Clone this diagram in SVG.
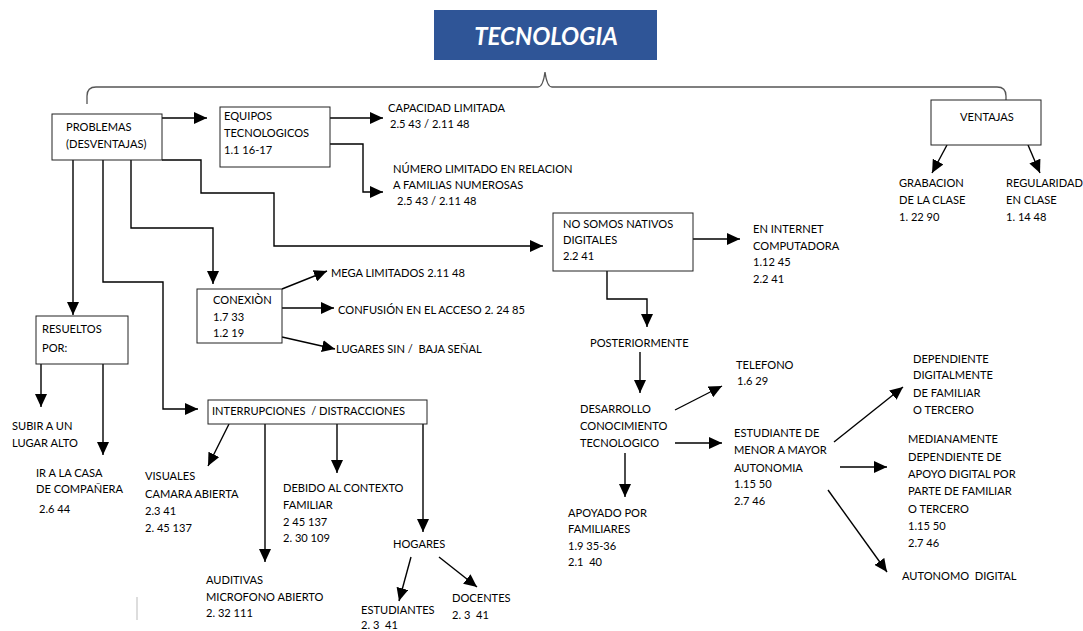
<svg xmlns="http://www.w3.org/2000/svg" width="1083" height="631" viewBox="0 0 1083 631">
<defs>
<marker id="ah" markerUnits="userSpaceOnUse" markerWidth="14" markerHeight="12" refX="13" refY="6" orient="auto">
<path d="M0,0 L13,6 L0,12 z" fill="#000"/>
</marker>
<style>
text{font-family:Lato,"Liberation Sans",sans-serif;font-size:11.1px;fill:#000}
.box{fill:#fff;stroke:#222;stroke-width:1}
.c{fill:none;stroke:#000;stroke-width:1.4}
.a{fill:none;stroke:#000;stroke-width:1.4;marker-end:url(#ah)}
.title{font-size:24px;font-weight:bold;font-style:italic;fill:#fff}
</style>
</defs>
<rect width="1083" height="631" fill="#fff"/>

<g id="title">
<rect x="434" y="10" width="223" height="50" fill="#2F5597"/>
<text class="title" x="546" y="45" text-anchor="middle">TECNOLOGIA</text>
</g>

<g id="connectors">
<path d="M87,104 L87,96 Q87,87 96,87 L538,87 Q543,87 545,72 Q547,87 552,87 L997,87 Q1006,87 1006,96 L1006,100" fill="none" stroke="#555" stroke-width="1.3"/>
<line class="a" x1="162" y1="118" x2="207" y2="118"/>
<line class="a" x1="330" y1="118" x2="383" y2="118"/>
<polyline class="a" points="330,144 363,144 363,192 383,192"/>
<polyline class="a" points="162,160 201,160 201,193 274,193 274,246 543,246"/>
<polyline class="a" points="131,160 131,228 213,228 213,284"/>
<line class="a" x1="73" y1="160" x2="73" y2="315"/>
<polyline class="a" points="103,160 103,282 163,282 163,409 198,409"/>
<line class="a" x1="947" y1="145" x2="932" y2="173"/>
<line class="a" x1="1028" y1="145" x2="1040" y2="173"/>
<line class="a" x1="693" y1="239" x2="740" y2="239"/>
<polyline class="a" points="607,271 607,299 647,299 647,327"/>
<line class="a" x1="282" y1="289" x2="327" y2="271"/>
<line class="a" x1="282" y1="308" x2="334" y2="308"/>
<line class="a" x1="282" y1="337" x2="335" y2="349"/>
<line class="a" x1="41" y1="364" x2="41" y2="407"/>
<line class="a" x1="103" y1="364" x2="103" y2="455"/>
<line class="a" x1="229" y1="424" x2="208" y2="466"/>
<line class="a" x1="265" y1="424" x2="265" y2="562"/>
<line class="a" x1="337" y1="424" x2="337" y2="473"/>
<line class="a" x1="423" y1="424" x2="423" y2="532"/>
<line class="a" x1="411" y1="557" x2="399" y2="601"/>
<line class="a" x1="439" y1="557" x2="477" y2="587"/>
<line class="a" x1="640" y1="352" x2="640" y2="393"/>
<line class="a" x1="675" y1="410" x2="722" y2="386"/>
<line class="a" x1="675" y1="443" x2="722" y2="443"/>
<line class="a" x1="625" y1="453" x2="625" y2="497"/>
<line class="a" x1="834" y1="442" x2="903" y2="387"/>
<line class="a" x1="840" y1="467" x2="887" y2="467"/>
<line class="a" x1="828" y1="490" x2="887" y2="572"/>
<line x1="137" y1="597" x2="137" y2="620" stroke="#bbb" stroke-width="1"/>
</g>

<g id="problemas">
<rect class="box" x="52" y="114" width="110" height="46"/>
<text x="66" y="131">PROBLEMAS</text>
<text x="66" y="148">(DESVENTAJAS)</text>
</g>

<g id="equipos">
<rect class="box" x="220" y="107" width="110" height="60"/>
<text x="224" y="120">EQUIPOS</text>
<text x="224" y="137">TECNOLOGICOS</text>
<text x="224" y="154">1.1 16-17</text>
</g>

<g id="capacidad">
<text x="388" y="112">CAPACIDAD LIMITADA</text>
<text x="390" y="128">2.5 43 / 2.11 48</text>
</g>

<g id="numero">
<text x="393" y="173">NÚMERO LIMITADO EN RELACION</text>
<text x="393" y="189">A FAMILIAS NUMEROSAS</text>
<text x="397" y="205">2.5 43 / 2.11 48</text>
</g>

<g id="ventajas">
<rect class="box" x="931" y="100" width="110" height="45"/>
<text x="960" y="121">VENTAJAS</text>
</g>

<g id="grabacion">
<text x="899" y="187">GRABACION</text>
<text x="899" y="204">DE LA CLASE</text>
<text x="899" y="221">1. 22 90</text>
</g>

<g id="regularidad">
<text x="1006" y="187">REGULARIDAD</text>
<text x="1006" y="204">EN CLASE</text>
<text x="1006" y="221">1. 14 48</text>
</g>

<g id="nosomos">
<rect class="box" x="553" y="213" width="140" height="58"/>
<text x="563" y="228">NO SOMOS NATIVOS</text>
<text x="563" y="244">DIGITALES</text>
<text x="563" y="260">2.2 41</text>
</g>

<g id="internet">
<text x="753" y="233">EN INTERNET</text>
<text x="753" y="250">COMPUTADORA</text>
<text x="753" y="266">1.12 45</text>
<text x="753" y="283">2.2 41</text>
</g>

<g id="conexion">
<rect class="box" x="197" y="289" width="85" height="54"/>
<text x="213" y="304">CONEXIÒN</text>
<text x="213" y="321">1.7 33</text>
<text x="213" y="337">1.2 19</text>
</g>

<g id="mega"><text x="331" y="277">MEGA LIMITADOS 2.11 48</text></g>
<g id="confusion"><text x="338" y="314">CONFUSIÓN EN EL ACCESO 2. 24 85</text></g>
<g id="lugares"><text x="336" y="353" xml:space="preserve">LUGARES SIN /  BAJA SEÑAL</text></g>

<g id="resueltos">
<rect class="box" x="36" y="316" width="92" height="48"/>
<text x="42" y="333">RESUELTOS</text>
<text x="42" y="352">POR:</text>
</g>

<g id="subir">
<text x="12" y="430">SUBIR A UN</text>
<text x="12" y="447">LUGAR ALTO</text>
</g>

<g id="ircasa">
<text x="36" y="477">IR A LA CASA</text>
<text x="36" y="493">DE COMPAÑERA</text>
<text x="39" y="513">2.6 44</text>
</g>

<g id="interrupciones">
<rect class="box" x="208" y="400" width="219" height="24"/>
<text x="212" y="415" xml:space="preserve">INTERRUPCIONES  / DISTRACCIONES</text>
</g>

<g id="visuales">
<text x="145" y="480">VISUALES</text>
<text x="145" y="498">CAMARA ABIERTA</text>
<text x="145" y="515">2.3 41</text>
<text x="145" y="532">2. 45 137</text>
</g>

<g id="debido">
<text x="283" y="492">DEBIDO AL CONTEXTO</text>
<text x="283" y="509">FAMILIAR</text>
<text x="283" y="526">2 45 137</text>
<text x="283" y="542">2. 30 109</text>
</g>

<g id="auditivas">
<text x="206" y="584">AUDITIVAS</text>
<text x="206" y="601">MICROFONO ABIERTO</text>
<text x="206" y="617">2. 32 111</text>
</g>

<g id="hogares"><text x="393" y="548">HOGARES</text></g>

<g id="estudiantes">
<text x="361" y="614">ESTUDIANTES</text>
<text x="361" y="629" xml:space="preserve">2. 3  41</text>
</g>

<g id="docentes">
<text x="452" y="602">DOCENTES</text>
<text x="452" y="619" xml:space="preserve">2. 3  41</text>
</g>

<g id="posteriormente"><text x="590" y="347">POSTERIORMENTE</text></g>

<g id="desarrollo">
<text x="580" y="413">DESARROLLO</text>
<text x="580" y="430">CONOCIMIENTO</text>
<text x="580" y="447">TECNOLOGICO</text>
</g>

<g id="telefono">
<text x="736" y="369">TELEFONO</text>
<text x="737" y="385">1.6 29</text>
</g>

<g id="estudiante">
<text x="734" y="437">ESTUDIANTE DE</text>
<text x="734" y="454">MENOR A MAYOR</text>
<text x="734" y="472">AUTONOMIA</text>
<text x="734" y="488">1.15 50</text>
<text x="734" y="505">2.7 46</text>
</g>

<g id="apoyado">
<text x="568" y="517">APOYADO POR</text>
<text x="568" y="533">FAMILIARES</text>
<text x="568" y="550">1.9 35-36</text>
<text x="568" y="566" xml:space="preserve">2.1  40</text>
</g>

<g id="dependiente">
<text x="913" y="363">DEPENDIENTE</text>
<text x="913" y="379">DIGITALMENTE</text>
<text x="913" y="397">DE FAMILIAR</text>
<text x="913" y="414">O TERCERO</text>
</g>

<g id="medianamente">
<text x="908" y="443">MEDIANAMENTE</text>
<text x="908" y="461">DEPENDIENTE DE</text>
<text x="908" y="478">APOYO DIGITAL POR</text>
<text x="908" y="495">PARTE DE FAMILIAR</text>
<text x="908" y="513">O TERCERO</text>
<text x="908" y="530">1.15 50</text>
<text x="908" y="547">2.7 46</text>
</g>

<g id="autonomo"><text x="902" y="580" xml:space="preserve">AUTONOMO  DIGITAL</text></g>
</svg>
